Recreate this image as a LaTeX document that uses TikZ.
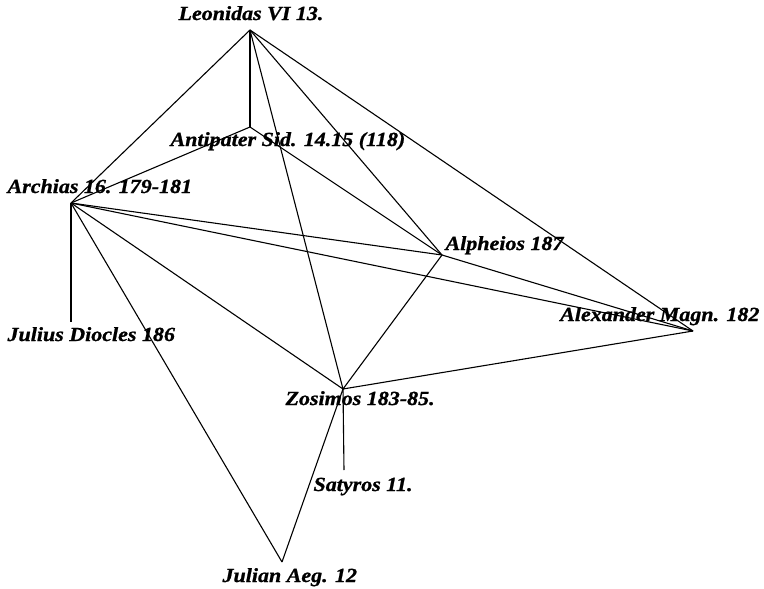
\documentclass[tikz,border=0pt]{standalone}
\usepackage{fontspec}
\setmainfont{Liberation Serif}
\newfontfamily\namefont[FakeStretch=1.1, FakeBold=1]{Liberation Serif}
\usetikzlibrary{positioning}
\begin{document}
\begin{tikzpicture}[x=1pt, y=-1pt, line width=1.1pt,
    every node/.style={font=\namefont\fontsize{20}{22}\selectfont\bfseries\itshape, inner sep=0pt, anchor=base west}]
    \useasboundingbox (0,0) rectangle (764,589);
    % Meeting points of the lines
    \coordinate (leo) at (250,30);
    \coordinate (anti) at (250,127);
    \coordinate (arch) at (71,203);
    \coordinate (alph) at (442,255);
    \coordinate (alex) at (693,331);
    \coordinate (zosi) at (343,389);
    \coordinate (juld) at (71,322);
    \coordinate (saty) at (344,470);
    \coordinate (juli) at (282,562);
    % Names
    \node[anchor=base] (leoname) at (251,20) {Leonidas VI 13.};
    \node (antiname) at (170,146) {Antipater Sid. 14.15 (118)};
    \node (archname) at (7,193) {Archias 16. 179-181};
    \node (juldname) at (7,341) {Julius Diocles 186};
    \node (alphname) at (445,250) {Alpheios 187};
    \node[anchor=base east] (alexname) at (760,321) {Alexander Magn. 182};
    \node (zosiname) at (285,405) {Zosimos 183-85.};
    \node (satyname) at (313,491) {Satyros 11.};
    \node (juliname) at (222,582) {Julian Aeg. 12};
    % Lines from Leonidas
    \draw (leo) -- (arch);
    \draw (leo) -- (anti);
    \draw (leo) -- (zosi);
    \draw (leo) -- (alph);
    \draw (leo) -- (alex);
    % Lines from Antipater
    \draw (anti) -- (arch);
    \draw (anti) -- (alph);
    % Lines from Archias
    \draw (arch) -- (juld);
    \draw (arch) -- (alph);
    \draw (arch) -- (alex);
    \draw (arch) -- (zosi);
    \draw (arch) -- (juli);
    % Lines from Alpheios and Alexander
    \draw (alph) -- (alex);
    \draw (alph) -- (zosi);
    \draw (alex) -- (zosi);
    % Lines from Zosimos
    \draw (zosi) -- (saty);
    \draw (zosi) -- (juli);
\end{tikzpicture}
\end{document}
